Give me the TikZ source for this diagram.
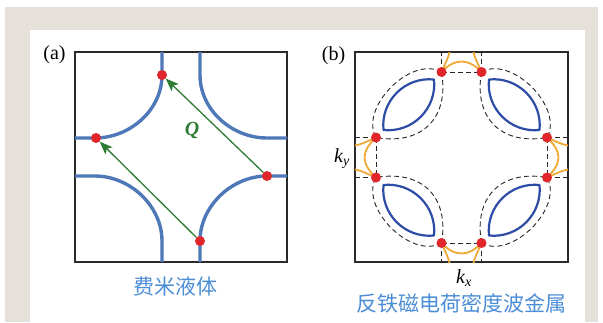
\documentclass[tikz,border=0pt]{standalone}
\usepackage{fontspec}
\setmainfont{Liberation Serif}
\newfontfamily\cjkfont{Noto Sans CJK SC}
\usetikzlibrary{arrows.meta}
\definecolor{framebeige}{HTML}{E5E0DA}
\definecolor{fsblue}{HTML}{4E78B8}
\definecolor{lensblue}{HTML}{2D4CA6}
\definecolor{dotred}{HTML}{E0262B}
\definecolor{qgreen}{HTML}{2E7B34}
\definecolor{txtblue}{HTML}{4C8ED6}
\definecolor{pocket}{HTML}{F0A935}
\definecolor{boxgray}{HTML}{2A2A2A}
\tikzset{
  bzbox/.style={draw=boxgray, line width=1.3pt},
  fsline/.style={draw=fsblue, line width=3.4pt},
  lensline/.style={draw=lensblue, line width=2.2pt, line join=round},
  pocketline/.style={draw=pocket, line width=1.8pt},
  dashline/.style={draw=black!85, line width=0.9pt, dash pattern=on 5pt off 3.2pt},
  reddot/.style={circle, fill=dotred, inner sep=0pt, minimum size=10pt},
  qarrow/.style={draw=qgreen, line width=1.3pt, -{Stealth[length=13pt,width=10pt,inset=3pt]}},
  panellabel/.style={font=\fontsize{20}{22}\selectfont, text=black},
  cjklabel/.style={font=\cjkfont\fontsize{21}{24}\selectfont, text=txtblue},
  klabel/.style={font=\fontsize{20}{22}\selectfont\itshape, inner sep=0pt}
}
\begin{document}
\begin{tikzpicture}[x=1pt,y=-1pt]
\useasboundingbox (0,0) rectangle (603,322);
% frame
\fill[framebeige] (5,7) rectangle (598,322);
\fill[white] (30,30) rectangle (585,322);

% ---------------- panel (a)
\node[panellabel] (la) at (54.5,54.5) {(a)};
\draw[bzbox] (75,52) rectangle (287,262);
\draw[fsline] (162,52) -- (162,75) .. controls (162,110) and (130,138) .. (95,138) -- (75,138);
\draw[fsline] (200,52) -- (200,75) .. controls (200,110) and (232,138) .. (267,138) -- (287,138);
\draw[fsline] (75,176) -- (95,176) .. controls (130,176) and (162,206) .. (162,241) -- (162,262);
\draw[fsline] (287,176) -- (267,176) .. controls (232,176) and (200,206) .. (200,241) -- (200,262);
\node[reddot] (at) at (162,75) {};
\node[reddot] (al) at (96,138) {};
\node[reddot] (ar) at (267,176) {};
\node[reddot] (ab) at (200,241) {};
\draw[qarrow] (ab) -- (al);
\draw[qarrow] (ar) -- (at);
\node[text=qgreen, font=\fontsize{20}{22}\selectfont\bfseries\itshape] (q) at (192,130) {Q};
\node[cjklabel] (ta) at (175,286) {费米液体};

% ---------------- panel (b)
\node[panellabel] (lb) at (333.5,55.5) {(b)};
\draw[bzbox] (355,52) rectangle (568,262);
\begin{scope}[shift={(461.5,157.5)}]
  \foreach \sx/\sy/\q in {1/1/a, -1/1/b, 1/-1/c, -1/-1/d}{
    \begin{scope}[xscale=\sx, yscale=\sy]
      \coordinate (pA\q) at (-20,-85.5);
      \coordinate (pB\q) at (-85.5,-20);
      % dashed Fermi surfaces (original and shifted)
      \draw[dashline] (pA\q) -- (-20,-105.5);
      \draw[dashline] (pB\q) -- (-106.5,-20);
      \draw[dashline] (pA\q) .. controls (-50,-102.5) and (-102.5,-50) .. (pB\q);
      \draw[dashline] (pA\q) .. controls (-12,-39.5) and (-39.5,-12) .. (pB\q);
      % blue lens
      \draw[lensline] (-27.5,-78) .. controls (-56.5,-81) and (-81,-56.5) .. (-78,-27.5)
                       .. controls (-49,-24.5) and (-24.5,-49) .. cycle;
      % orange pockets (halves)
      \draw[pocketline] (pA\q) .. controls (-14,-92) and (-7,-96) .. (0,-96);
      \draw[pocketline] (pA\q) .. controls (-16,-95) and (-13,-100) .. (-12,-105.5);
      \draw[pocketline] (pB\q) .. controls (-92,-14) and (-97,-7) .. (-97,0);
      \draw[pocketline] (pB\q) .. controls (-95,-16) and (-100,-13) .. (-106.5,-12);
    \end{scope}
  }
  \draw[dashline] (pAa) -- (pAb);
  \draw[dashline] (pAc) -- (pAd);
  \draw[dashline] (pBa) -- (pBc);
  \draw[dashline] (pBb) -- (pBd);
  \foreach \q in {a,b,c,d}{
    \node[reddot] (dA\q) at (pA\q) {};
    \node[reddot] (dB\q) at (pB\q) {};
  }
\end{scope}
\node[klabel] (ky) at (342,159) {k\textsubscript{y}};
\node[klabel] (kx) at (464,278) {k\textsubscript{x}};
\node[cjklabel] (tb) at (461,303) {反铁磁电荷密度波金属};
\end{tikzpicture}
\end{document}
